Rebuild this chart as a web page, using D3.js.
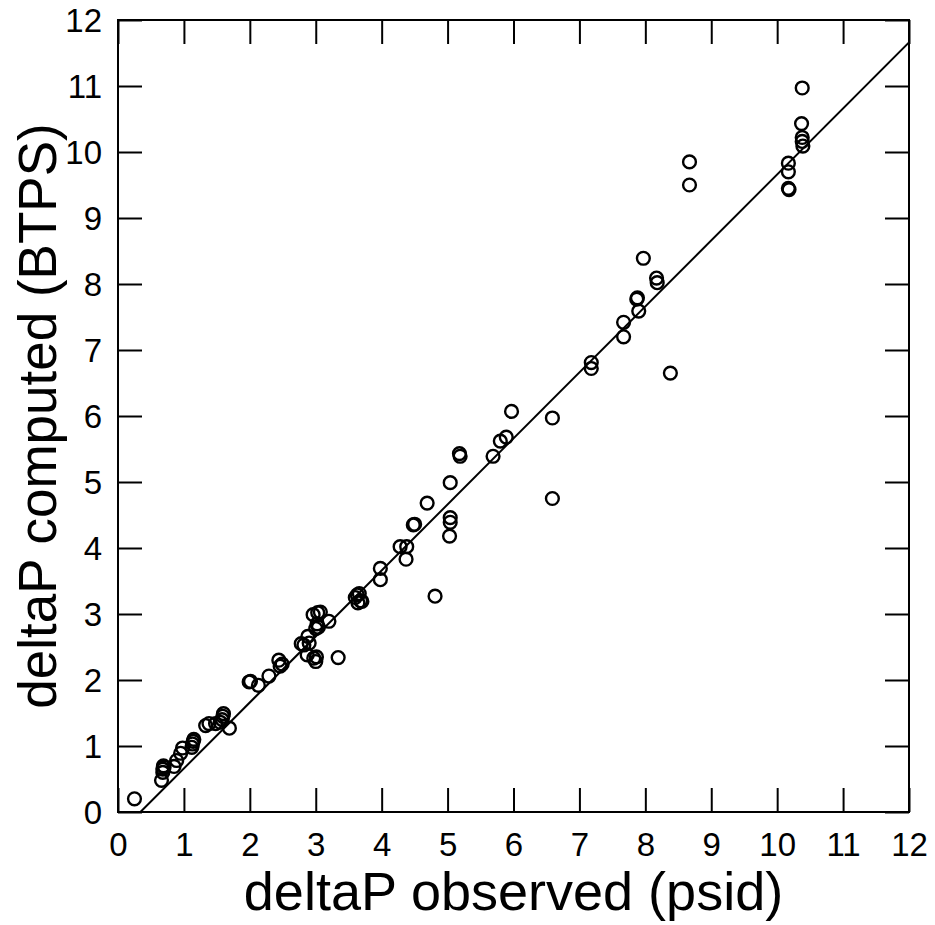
<!DOCTYPE html>
<html>
<head>
<meta charset="utf-8">
<script src="https://cdn.jsdelivr.net/npm/d3@7"></script>
<style>
  html, body { margin: 0; padding: 0; background: #fff; }
  svg { display: block; }
  text { font-family: "Liberation Sans", Arial, sans-serif; fill: #000; }
</style>
</head>
<body>
<svg id="chart" width="935" height="925"></svg>
<script>
// ---- data ----
const observed = [
  0.25, 0.66, 0.68, 0.68, 0.69, 0.70, 0.85, 0.89, 0.95, 0.98,
  1.12, 1.13, 1.14, 1.15, 1.33, 1.38, 1.48, 1.55, 1.58, 1.59,
  1.60, 1.69, 1.99, 2.01, 2.13, 2.29, 2.44, 2.46, 2.49, 2.78,
  2.82, 2.88, 2.87, 2.90, 2.97, 3.00, 3.01, 3.34, 2.96, 3.03,
  3.07, 3.00, 3.02, 3.04, 3.20, 3.60, 3.63, 3.66, 3.68, 3.64,
  3.70, 3.98, 3.98, 4.28, 4.38, 4.37, 4.81, 4.48, 4.50, 4.69,
  5.04, 5.04, 5.04, 5.03, 5.18, 5.19, 5.69, 5.80, 5.89, 5.97,
  6.59, 6.59, 7.18, 7.18, 7.67, 7.67, 7.90, 7.87, 7.88, 7.97,
  8.17, 8.18, 8.38, 8.67, 8.67, 10.17, 10.17, 10.17, 10.18, 10.38,
  10.37, 10.38, 10.38, 10.39
];
const computed = [
  0.20, 0.48, 0.60, 0.65, 0.70, 0.68, 0.69, 0.78, 0.89, 0.97,
  0.98, 1.03, 1.07, 1.10, 1.31, 1.34, 1.34, 1.36, 1.40, 1.45,
  1.49, 1.27, 1.97, 1.98, 1.92, 2.06, 2.30, 2.21, 2.24, 2.55,
  2.53, 2.66, 2.38, 2.56, 2.33, 2.28, 2.35, 2.34, 2.99, 3.02,
  3.03, 2.78, 2.85, 2.80, 2.89, 3.25, 3.29, 3.31, 3.20, 3.17,
  3.19, 3.69, 3.52, 4.02, 4.02, 3.83, 3.27, 4.35, 4.36, 4.68,
  4.99, 4.46, 4.39, 4.18, 5.43, 5.39, 5.39, 5.62, 5.68, 6.07,
  5.97, 4.75, 6.81, 6.72, 7.42, 7.20, 7.59, 7.77, 7.79, 8.39,
  8.09, 8.02, 6.65, 9.85, 9.50, 9.83, 9.70, 9.45, 9.43, 10.97,
  10.43, 10.22, 10.16, 10.09
];
// fitted line: computed = slope * observed + intercept
const fitSlope = [1.0];
const fitIntercept = [-0.34];
const fitXRange = [0.34, 12];
const xTicks = [0,1,2,3,4,5,6,7,8,9,10,11,12];
const yTicks = [0,1,2,3,4,5,6,7,8,9,10,11,12];
const xTitle = "deltaP observed (psid)";
const yTitle = "deltaP computed (BTPS)";

// ---- layout ----
const svg = d3.select("#chart");
const L = 118, R = 909, T = 20, B = 812;
const x = d3.scaleLinear().domain([0, 12]).range([L, R]);
const y = d3.scaleLinear().domain([0, 12]).range([B, T]);
const tickLen = 24;
const tickFont = 33;

// frame
svg.append("rect").attr("x", L).attr("y", T).attr("width", R - L).attr("height", B - T)
  .attr("fill", "none").attr("stroke", "#000").attr("stroke-width", 2);

// axes with inward ticks on all four sides
const gB = svg.append("g").attr("transform", `translate(0,${B})`)
  .call(d3.axisBottom(x).tickValues(xTicks).tickSizeInner(-tickLen).tickSizeOuter(0).tickFormat(d3.format("d")));
const gL = svg.append("g").attr("transform", `translate(${L},0)`)
  .call(d3.axisLeft(y).tickValues(yTicks).tickSizeInner(-tickLen).tickSizeOuter(0).tickFormat(d3.format("d")));
const gT = svg.append("g").attr("transform", `translate(0,${T})`)
  .call(d3.axisTop(x).tickValues(xTicks).tickSizeInner(-tickLen).tickSizeOuter(0).tickFormat(""));
const gR = svg.append("g").attr("transform", `translate(${R},0)`)
  .call(d3.axisRight(y).tickValues(yTicks).tickSizeInner(-tickLen).tickSizeOuter(0).tickFormat(""));

[gB, gL, gT, gR].forEach(g => {
  g.select(".domain").remove();
  g.selectAll(".tick line").attr("stroke", "#000").attr("stroke-width", 2);
  g.selectAll("text").attr("font-size", tickFont).attr("fill", "#000");
});
gB.selectAll("text").attr("dy", null).attr("y", 856 - B);
gL.selectAll("text").attr("x", -(L - 102)).attr("dy", "0.36em");

// fitted line
svg.append("clipPath").attr("id", "plotclip").append("rect")
  .attr("x", L).attr("y", T).attr("width", R - L).attr("height", B - T);
const lineData = fitXRange.map(v => [v, fitSlope[0] * v + fitIntercept[0]]);
svg.append("path")
  .attr("d", d3.line().x(d => x(d[0])).y(d => y(d[1]))(lineData))
  .attr("fill", "none").attr("stroke", "#000").attr("stroke-width", 2)
  .attr("clip-path", "url(#plotclip)");

// points
svg.append("g").selectAll("circle").data(observed.map((v, i) => [v, computed[i]]))
  .join("circle")
  .attr("cx", d => x(d[0])).attr("cy", d => y(d[1])).attr("r", 6.4)
  .attr("fill", "none").attr("stroke", "#000").attr("stroke-width", 2.4);

// axis titles
svg.append("text").attr("x", (L + R) / 2).attr("y", 910).attr("text-anchor", "middle")
  .attr("font-size", 54).text(xTitle);
svg.append("text").attr("transform", `translate(56,${(T + B) / 2}) rotate(-90)`).attr("text-anchor", "middle")
  .attr("font-size", 53).text(yTitle);
</script>
</body>
</html>
